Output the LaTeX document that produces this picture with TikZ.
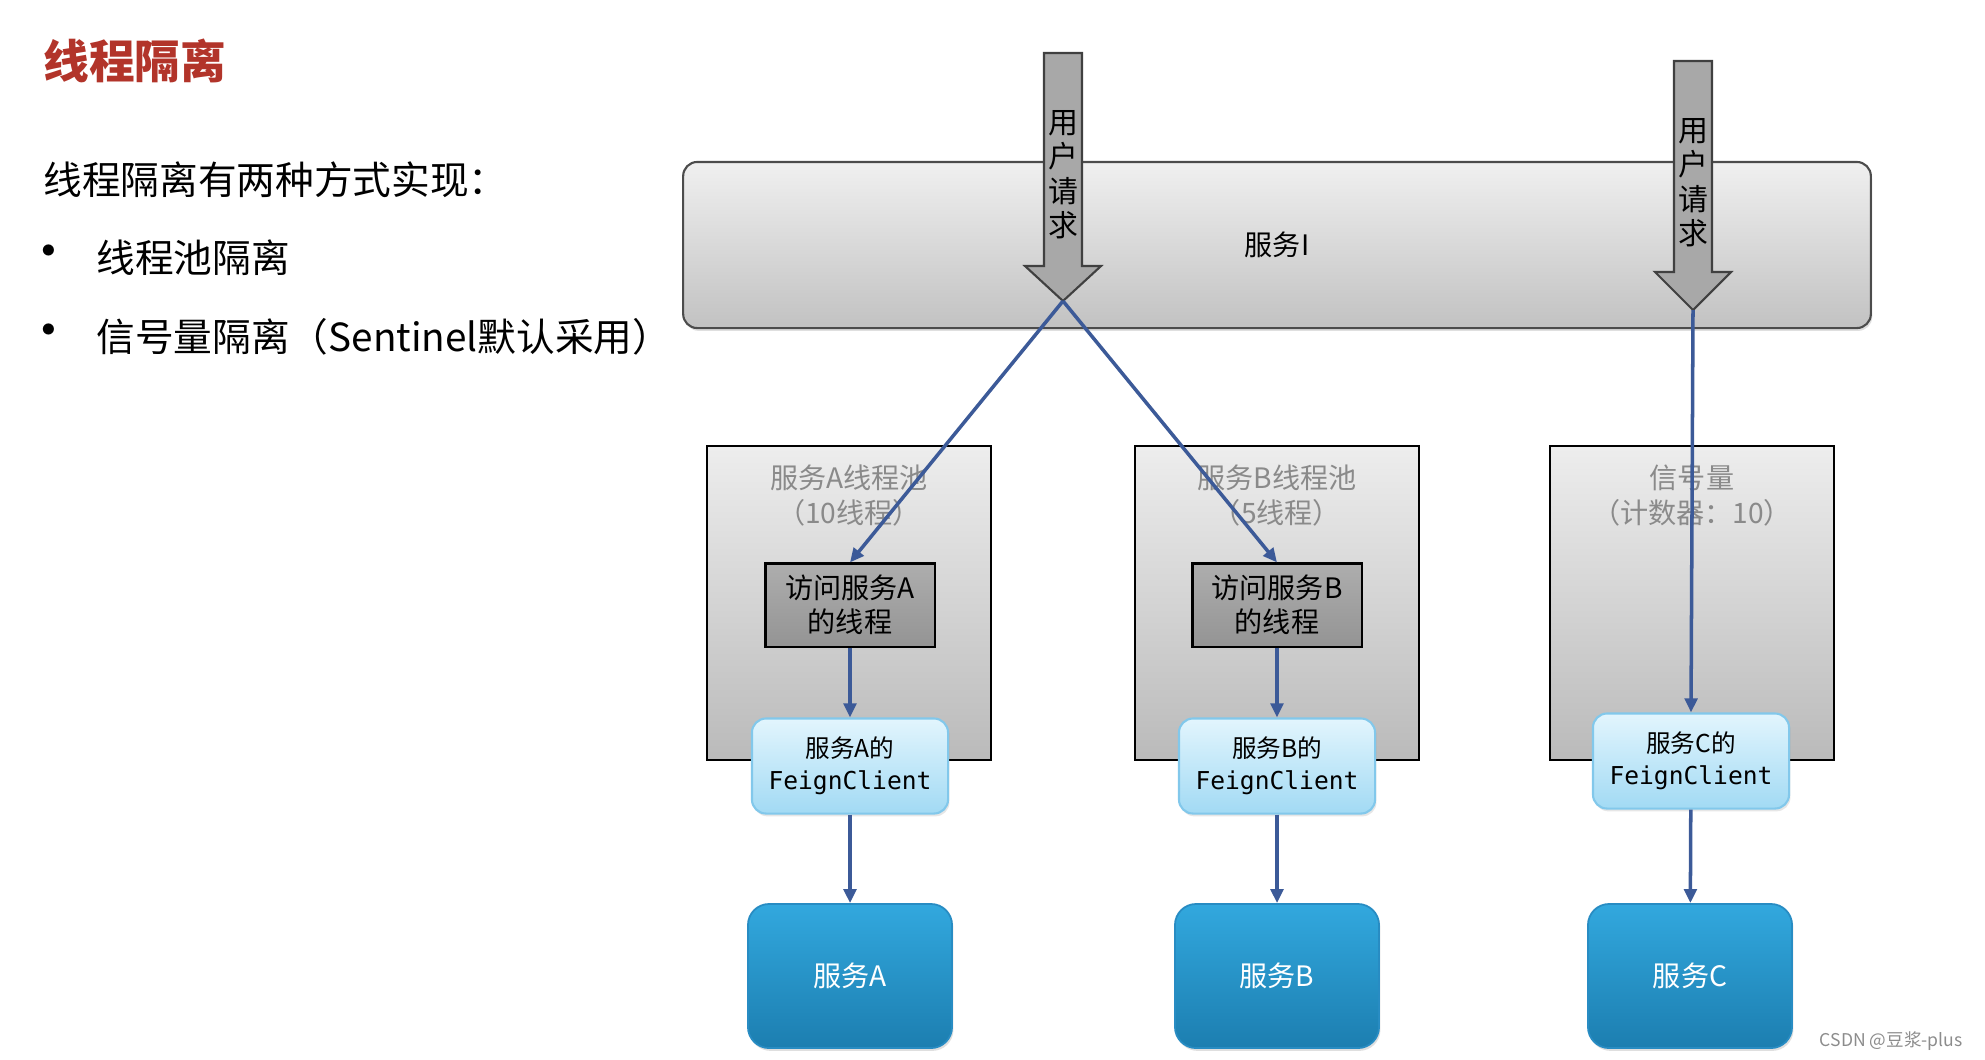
\documentclass[tikz,border=0pt]{standalone}
\usepackage{fontspec}
\setmainfont{Noto Sans CJK SC}
\setmonofont{DejaVu Sans Mono}
\usetikzlibrary{arrows.meta, positioning, shadows}

\definecolor{titlered}{RGB}{178,52,42}
\definecolor{linkblue}{RGB}{60,90,152}
\definecolor{pooltext}{RGB}{138,138,138}
\definecolor{reqgray}{RGB}{168,168,168}
\definecolor{feignborder}{RGB}{130,200,235}
\definecolor{feigntop}{RGB}{226,245,253}
\definecolor{feignbottom}{RGB}{162,218,244}
\definecolor{svcborder}{RGB}{40,140,195}

\begin{document}
\begin{tikzpicture}[
  x=0.01cm, y=-0.01cm,
  svcbar/.style={rectangle, draw=black!70, line width=0.6pt, rounded corners=4pt, top color=black!6, bottom color=black!24, minimum width=11.87cm, minimum height=1.66cm, font=\fontsize{8}{10}\selectfont, drop shadow={opacity=0.25, shadow xshift=0.4pt, shadow yshift=-0.8pt}},
  pool/.style={rectangle, draw=black, line width=0.6pt, top color=black!7, bottom color=black!27, minimum width=2.83cm, minimum height=3.13cm},
  pooltitle/.style={align=center, text=pooltext, font=\fontsize{8}{10}\selectfont, anchor=north},
  thread/.style={rectangle, draw=black, line width=0.6pt, top color=black!32, bottom color=black!42, minimum width=1.69cm, minimum height=0.81cm, align=center, font=\fontsize{8}{9.6}\selectfont},
  feign/.style={rectangle, draw=feignborder, line width=0.6pt, rounded corners=4pt, top color=feigntop, bottom color=feignbottom, minimum width=1.96cm, minimum height=0.95cm, align=center, font=\fontsize{7}{9}\selectfont, drop shadow={opacity=0.2, shadow xshift=0.4pt, shadow yshift=-0.8pt}},
  service/.style={rectangle, draw=svcborder, line width=0.5pt, rounded corners=6pt, top color={rgb,255:red,50;green,168;blue,222}, bottom color={rgb,255:red,28;green,126;blue,176}, minimum width=2.04cm, minimum height=1.44cm, text=white, font=\fontsize{8}{10}\selectfont, drop shadow={opacity=0.25, shadow xshift=0.4pt, shadow yshift=-0.8pt}},
  request/.style={fill=reqgray, draw=black!75, line width=0.6pt, line join=miter},
  reqtext/.style={align=center, font=\fontsize{8.5}{9.8}\selectfont, anchor=north},
  link/.style={draw=linkblue, line width=1pt, -{Triangle[length=4pt, width=3.6pt]}}
]
  \useasboundingbox (0,0) rectangle (1985,1059);

  % left side text
  \node[anchor=west, text=titlered, font=\fontsize{13}{15}\selectfont\bfseries] (title) at (31,61) {线程隔离};
  \node[anchor=west, font=\fontsize{11}{13}\selectfont] (intro) at (31,180) {线程隔离有两种方式实现：};
  \node[font=\fontsize{15}{15}\selectfont] (dot1) at (49,258) {•};
  \node[anchor=west, font=\fontsize{11}{13}\selectfont] (way1) at (84,258) {线程池隔离};
  \node[font=\fontsize{15}{15}\selectfont] (dot2) at (49,337) {•};
  \node[anchor=west, font=\fontsize{11}{13}\selectfont] (way2) at (84,337) {信号量隔离（Sentinel默认采用）};

  % service I
  \node[svcbar] (svcI) at (1277,245) {服务I};

  % user requests
  \draw[request] (1044,53) -- (1082,53) -- (1082,266) -- (1101,266) -- (1063,301)
    -- (1025,266) -- (1044,266) -- cycle;
  \coordinate (tip1) at (1063,301);
  \node[reqtext] (req1) at (1063,98) {用\\户\\请\\求};
  \draw[request] (1674,61) -- (1712,61) -- (1712,272) -- (1731,272) -- (1693,310)
    -- (1655,272) -- (1674,272) -- cycle;
  \coordinate (tip2) at (1693,310);
  \node[reqtext] (req2) at (1693,106) {用\\户\\请\\求};

  % pools
  \node[pool] (poolA) at (849,603) {};
  \node[pool] (poolB) at (1277,603) {};
  \node[pool] (poolC) at (1692,603) {};
  \node[pooltitle] (titleA) at (849,452) {服务A线程池\\（10线程）};
  \node[pooltitle] (titleB) at (1277,452) {服务B线程池\\（5线程）};
  \node[pooltitle] (titleC) at (1692,452) {信号量\\（计数器：10）};

  \node[thread] (thrA) at (850,605) {访问服务A\\的线程};
  \node[thread] (thrB) at (1277,605) {访问服务B\\的线程};

  \node[feign] (feignA) at (850,766) {服务A的\\\texttt{FeignClient}};
  \node[feign] (feignB) at (1277,766) {服务B的\\\texttt{FeignClient}};
  \node[feign] (feignC) at (1691,761) {服务C的\\\texttt{FeignClient}};

  \node[service] (svcA) at (850,976) {服务A};
  \node[service] (svcB) at (1277,976) {服务B};
  \node[service] (svcC) at (1690,976) {服务C};

  \draw[link] (tip1) -- (thrA.north);
  \draw[link] (tip1) -- (thrB.north);
  \draw[link] (tip2) -- (feignC.north);
  \draw[link] (thrA) -- (feignA);
  \draw[link] (thrB) -- (feignB);
  \draw[link] (feignA) -- (svcA);
  \draw[link] (feignB) -- (svcB);
  \draw[link] (feignC) -- (svcC);

  \node[anchor=east, text=black!45, font=\fontsize{5}{6}\selectfont] (mark) at (1975,1041) {CSDN @豆浆-plus};
\end{tikzpicture}
\end{document}
